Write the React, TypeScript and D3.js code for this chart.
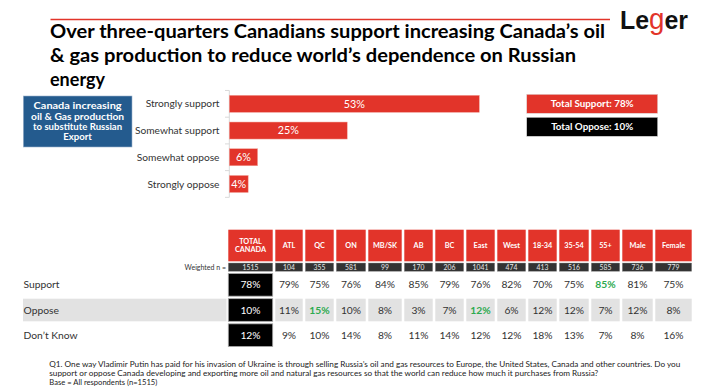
import React from 'react'
import * as d3 from 'd3'

const W = 716
const H = 389
const FONT = 'Lato, "Open Sans", sans-serif'
const RED = '#e2342a'
const GREEN = '#2eaa4f'
const TEXT = '#333333'

// ---- data ----
const titleLines = [
  'Over three-quarters Canadians support increasing Canada’s oil',
  '& gas production to reduce world’s dependence on Russian',
  'energy',
]
const boxLines = ['Canada increasing', 'oil & Gas production', 'to substitute Russian', 'Export']
const barCats = ['Strongly support', 'Somewhat support', 'Somewhat oppose', 'Strongly oppose']
const barVals = [53, 25, 6, 4]
const totalLabels = ['Total Support: 78%', 'Total Oppose: 10%']

const columns = ['TOTAL CANADA', 'ATL', 'QC', 'ON', 'MB/SK', 'AB', 'BC', 'East', 'West', '18-34', '35-54', '55+', 'Male', 'Female']
const weightedN = [1515, 104, 355, 581, 99, 170, 206, 1041, 474, 413, 516, 585, 736, 779]
const rowLabels = ['Support', 'Oppose', 'Don’t Know']
const support = [78, 79, 75, 76, 84, 85, 79, 76, 82, 70, 75, 85, 81, 75]
const oppose = [10, 11, 15, 10, 8, 3, 7, 12, 6, 12, 12, 7, 12, 8]
const dontKnow = [12, 9, 10, 14, 8, 11, 14, 12, 12, 18, 13, 7, 8, 16]
// columns shown in green, per row
const greenCols = [['55+'], ['QC', 'East'], []]

const footnote = [
  'Q1. One way Vladimir Putin has paid for his invasion of Ukraine is through selling Russia’s oil and gas resources to Europe, the United States, Canada and other countries. Do you',
  'support or oppose Canada developing and exporting more oil and natural gas resources so that the world can reduce how much it purchases from Russia?',
  'Base = All respondents (n=1515)',
]

// ---- layout (not data) ----
const colWidths = [47, 30, 31, 32, 36, 31, 31, 31, 31, 31, 32, 31, 33, 39]
const colGap = 2.6
const tableLeft = 228.3

export default function App() {
  const rows = [support, oppose, dontKnow]

  const y = d3.scaleBand<string>().domain(barCats).range([90.5, 197.3]).paddingInner(0.363).paddingOuter(0.18)
  const x = d3.scaleLinear().domain([0, 53]).range([229.3, 479.3])

  const lefts = [0, ...Array.from(d3.cumsum(colWidths))].map(v => tableLeft + v)
  const colLeft = d3.scaleOrdinal<string, number>().domain(columns).range(lefts)
  const colW = d3.scaleOrdinal<string, number>().domain(columns).range(colWidths.map(w => w - colGap))

  const rowY = d3.scaleBand<string>().domain(rowLabels).range([273.5, 346.5]).paddingInner(0.1)

  const step = y.step()
  const tickYs = barCats.map(c => (y(c) as number) - (step - y.bandwidth()) / 2).concat([(y(barCats[3]) as number) + y.bandwidth() + (step - y.bandwidth()) / 2])

  return (
    <svg width={W} height={H} style={{ position: 'absolute', left: 0, top: 0, background: '#fff' }} fontFamily={FONT}>
      {/* title */}
      <line x1={50.5} x2={610} y1={19.5} y2={19.5} stroke={RED} strokeWidth={1.5} />
      {titleLines.map((t, i) => (
        <text key={i} x={50} y={37.5 + i * 24.4} fontSize={18} fontWeight={700} fill="#000"
          textLength={i === 0 ? 555 : i === 1 ? 526 : undefined} lengthAdjust="spacingAndGlyphs">{t}</text>
      ))}

      {/* logo */}
      <text x={620} y={28.5} fontSize={26} fontWeight={700} fontFamily='"Liberation Sans", Arial, sans-serif' fill="#111" textLength={68} lengthAdjust="spacingAndGlyphs">
        Le<tspan fill={RED} fontWeight={400} fontSize={29}>g</tspan>er
      </text>

      {/* blue side box */}
      <rect x={23.3} y={96} width={108.7} height={51} fill="#245b8e" stroke="#9bb3cc" strokeWidth={0.6} />
      {boxLines.map((t, i) => (
        <text key={i} x={77.6} y={106 + i * 10.3} dy="0.35em" textAnchor="middle" fontSize={9.6} fontWeight={700} fill="#fff"
          textLength={i === 3 ? undefined : [88, 93, 89][i]} lengthAdjust="spacingAndGlyphs">{t}</text>
      ))}

      {/* bar chart axis */}
      <line x1={229.3} x2={229.3} y1={tickYs[0]} y2={tickYs[tickYs.length - 1]} stroke="#d9d9d9" />
      {tickYs.map((ty, i) => (
        <line key={i} x1={225} x2={229.3} y1={ty} y2={ty} stroke="#d9d9d9" />
      ))}
      {barCats.map((c, i) => (
        <g key={c}>
          <text x={219.5} y={(y(c) as number) + y.bandwidth() / 2} dy="0.35em" textAnchor="end" fontSize={10.2} fill={TEXT}>{c}</text>
          <rect x={x(0)} y={y(c)} width={x(barVals[i]) - x(0)} height={y.bandwidth()} fill={RED} stroke="#f2a49c" strokeWidth={0.5} />
          <text x={(x(0) + x(barVals[i])) / 2} y={(y(c) as number) + y.bandwidth() / 2} dy="0.36em" textAnchor="middle" fontSize={10.8} fill="#fff">{barVals[i]}%</text>
        </g>
      ))}

      {/* totals */}
      {totalLabels.map((t, i) => (
        <g key={t}>
          <rect x={526.7} y={94.3 + i * 23} width={131} height={19} fill={i === 0 ? RED : '#000'} stroke="#ddd" strokeWidth={0.5} />
          <text x={592.2} y={103.8 + i * 23} dy="0.35em" textAnchor="middle" fontSize={9.8} fontWeight={700} fill="#fff">{t}</text>
        </g>
      ))}

      {/* table header */}
      {columns.map(c => {
        const cx = colLeft(c) + colW(c) / 2
        const parts = c.split(' ')
        return (
          <g key={c}>
            <rect x={colLeft(c)} y={229.7} width={colW(c)} height={31.6} fill={RED} />
            {parts.map((p, j) => (
              <text key={j} x={cx} y={245.5 + (j - (parts.length - 1) / 2) * 8.6} dy="0.35em" textAnchor="middle" fontSize={7.3} fontWeight={700} fill="#fff">{p}</text>
            ))}
            <rect x={colLeft(c)} y={263} width={colW(c)} height={8.3} fill="#333" stroke="#999" strokeWidth={0.4} />
            <text x={cx} y={267.2} dy="0.35em" textAnchor="middle" fontSize={6.8} fill="#e6e6e6">{weightedN[columns.indexOf(c)]}</text>
          </g>
        )
      })}
      <text x={226} y={267.2} dy="0.35em" textAnchor="end" fontSize={7} fill={TEXT}>Weighted n =</text>

      {/* table body */}
      {rowLabels.map((r, ri) => {
        const top = rowY(r) as number
        const h = rowY.bandwidth()
        const shaded = ri === 1
        return (
          <g key={r}>
            {shaded && <rect x={23} y={top} width={203.5} height={h} fill="#e2e2e2" />}
            <text x={23.5} y={top + h / 2} dy="0.35em" fontSize={10.3} fill={TEXT}>{r}</text>
            {columns.map((c, ci) => {
              const isTotal = ci === 0
              const green = greenCols[ri].includes(c)
              return (
                <g key={c}>
                  {isTotal
                    ? <rect x={colLeft(c)} y={top} width={colW(c)} height={h} fill="#000" stroke="#aaa" strokeWidth={0.8} />
                    : shaded && <rect x={colLeft(c)} y={top} width={colW(c)} height={h} fill="#e2e2e2" />}
                  <text x={colLeft(c) + colW(c) / 2} y={top + h / 2} dy="0.35em" textAnchor="middle" fontSize={10.3}
                    fontWeight={green ? 700 : 400} fill={isTotal ? '#fff' : green ? GREEN : TEXT}>{rows[ri][ci]}%</text>
                </g>
              )
            })}
          </g>
        )
      })}

      {/* footnote */}
      {footnote.map((t, i) => (
        <text key={i} x={49.3} y={364 + i * 9.4} dy="0.35em" fontSize={7.6} fill="#222"
          textLength={i === 0 ? 631 : i === 1 ? 549 : undefined} lengthAdjust="spacingAndGlyphs">{t}</text>
      ))}
    </svg>
  )
}
